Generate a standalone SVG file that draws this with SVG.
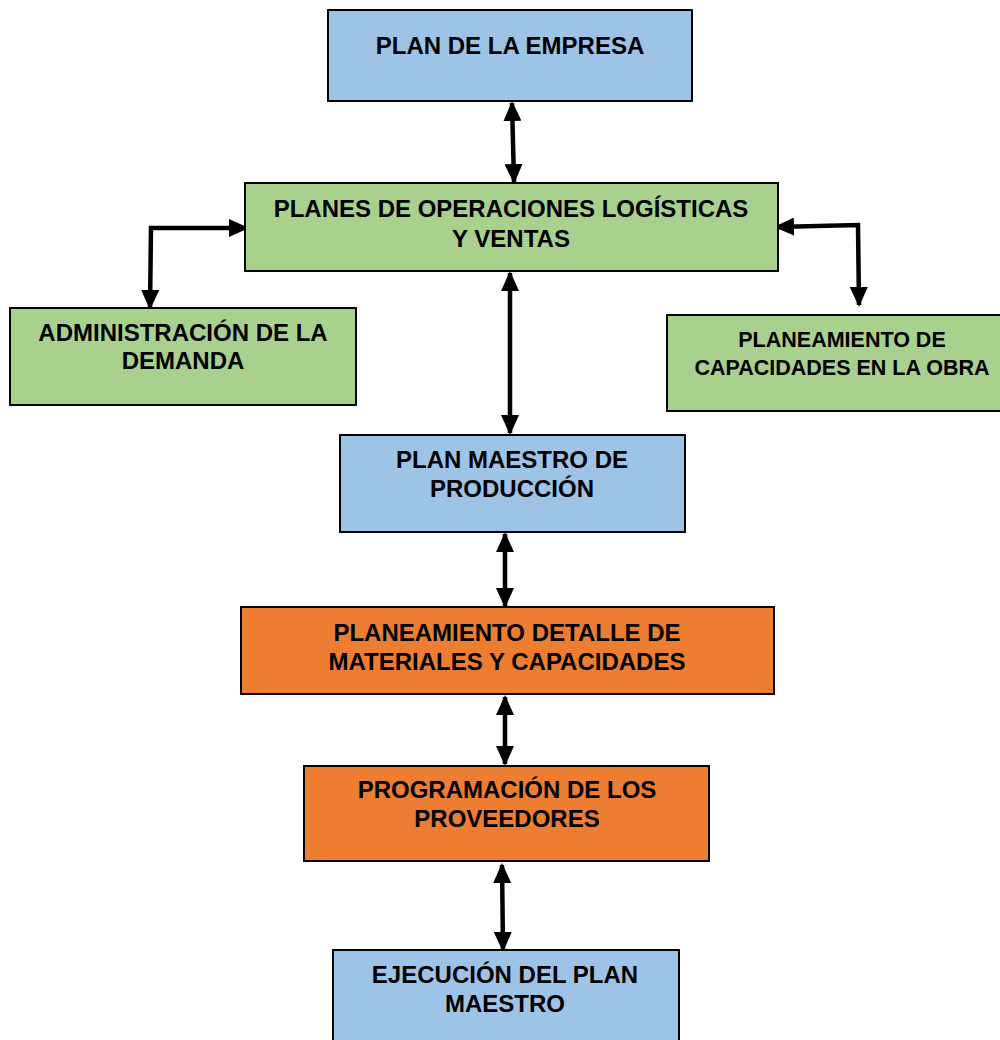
<svg xmlns="http://www.w3.org/2000/svg" width="1000" height="1040" viewBox="0 0 1000 1040">
<style>
.box{stroke:#000;stroke-width:2}
.blue{fill:#9DC3E6}
.green{fill:#A9D18E}
.orange{fill:#ED7D31}
text{font-family:"Liberation Sans",Arial,sans-serif;font-weight:bold;font-size:24px;text-anchor:middle;fill:#000}
.sm{font-size:21.5px}
.c{fill:none;stroke:#000;stroke-width:4.5}
</style>
<defs>
<marker id="ah" markerUnits="userSpaceOnUse" markerWidth="20" markerHeight="18" refX="18" refY="9" orient="auto-start-reverse" viewBox="0 0 20 18">
<path d="M0,0 L20,9 L0,18 Z" fill="#000"/>
</marker>
</defs>
<rect width="1000" height="1040" fill="#fff"/>
<g id="connectors">
<line class="c" x1="512" y1="103" x2="514" y2="182" marker-start="url(#ah)" marker-end="url(#ah)"/>
<line class="c" x1="510" y1="273" x2="510" y2="433" marker-start="url(#ah)" marker-end="url(#ah)"/>
<line class="c" x1="505" y1="534" x2="505" y2="606" marker-start="url(#ah)" marker-end="url(#ah)"/>
<line class="c" x1="505" y1="697" x2="505" y2="764" marker-start="url(#ah)" marker-end="url(#ah)"/>
<line class="c" x1="502" y1="865" x2="503" y2="950" marker-start="url(#ah)" marker-end="url(#ah)"/>
<path class="c" d="M150,308 L151,228 L247,228" marker-start="url(#ah)" marker-end="url(#ah)"/>
<path class="c" d="M776,227 L858,225 L859,305" marker-start="url(#ah)" marker-end="url(#ah)"/>
</g>
<g id="n1"><rect class="box blue" x="328" y="10" width="364" height="91"/><text x="510" y="54">PLAN DE LA EMPRESA</text></g>
<g id="n2"><rect class="box green" x="245" y="183" width="533" height="88"/><text x="511" y="217">PLANES DE OPERACIONES LOGÍSTICAS</text><text x="511" y="247">Y VENTAS</text></g>
<g id="n3"><rect class="box green" x="10" y="308" width="346" height="97"/><text x="183" y="341">ADMINISTRACIÓN DE LA</text><text x="183" y="369">DEMANDA</text></g>
<g id="n4"><rect class="box green" x="667" y="315" width="350" height="96"/><text class="sm" x="842" y="347">PLANEAMIENTO DE</text><text class="sm" x="842" y="375">CAPACIDADES EN LA OBRA</text></g>
<g id="n5"><rect class="box blue" x="340" y="435" width="345" height="97"/><text x="512" y="468">PLAN MAESTRO DE</text><text x="512" y="497">PRODUCCIÓN</text></g>
<g id="n6"><rect class="box orange" x="241" y="607" width="533" height="87"/><text x="507" y="641">PLANEAMIENTO DETALLE DE</text><text x="507" y="670">MATERIALES Y CAPACIDADES</text></g>
<g id="n7"><rect class="box orange" x="304" y="766" width="405" height="95"/><text x="507" y="798">PROGRAMACIÓN DE LOS</text><text x="507" y="827">PROVEEDORES</text></g>
<g id="n8"><rect class="box blue" x="333" y="950" width="346" height="100"/><text x="505" y="983">EJECUCIÓN DEL PLAN</text><text x="505" y="1012">MAESTRO</text></g>
</svg>
